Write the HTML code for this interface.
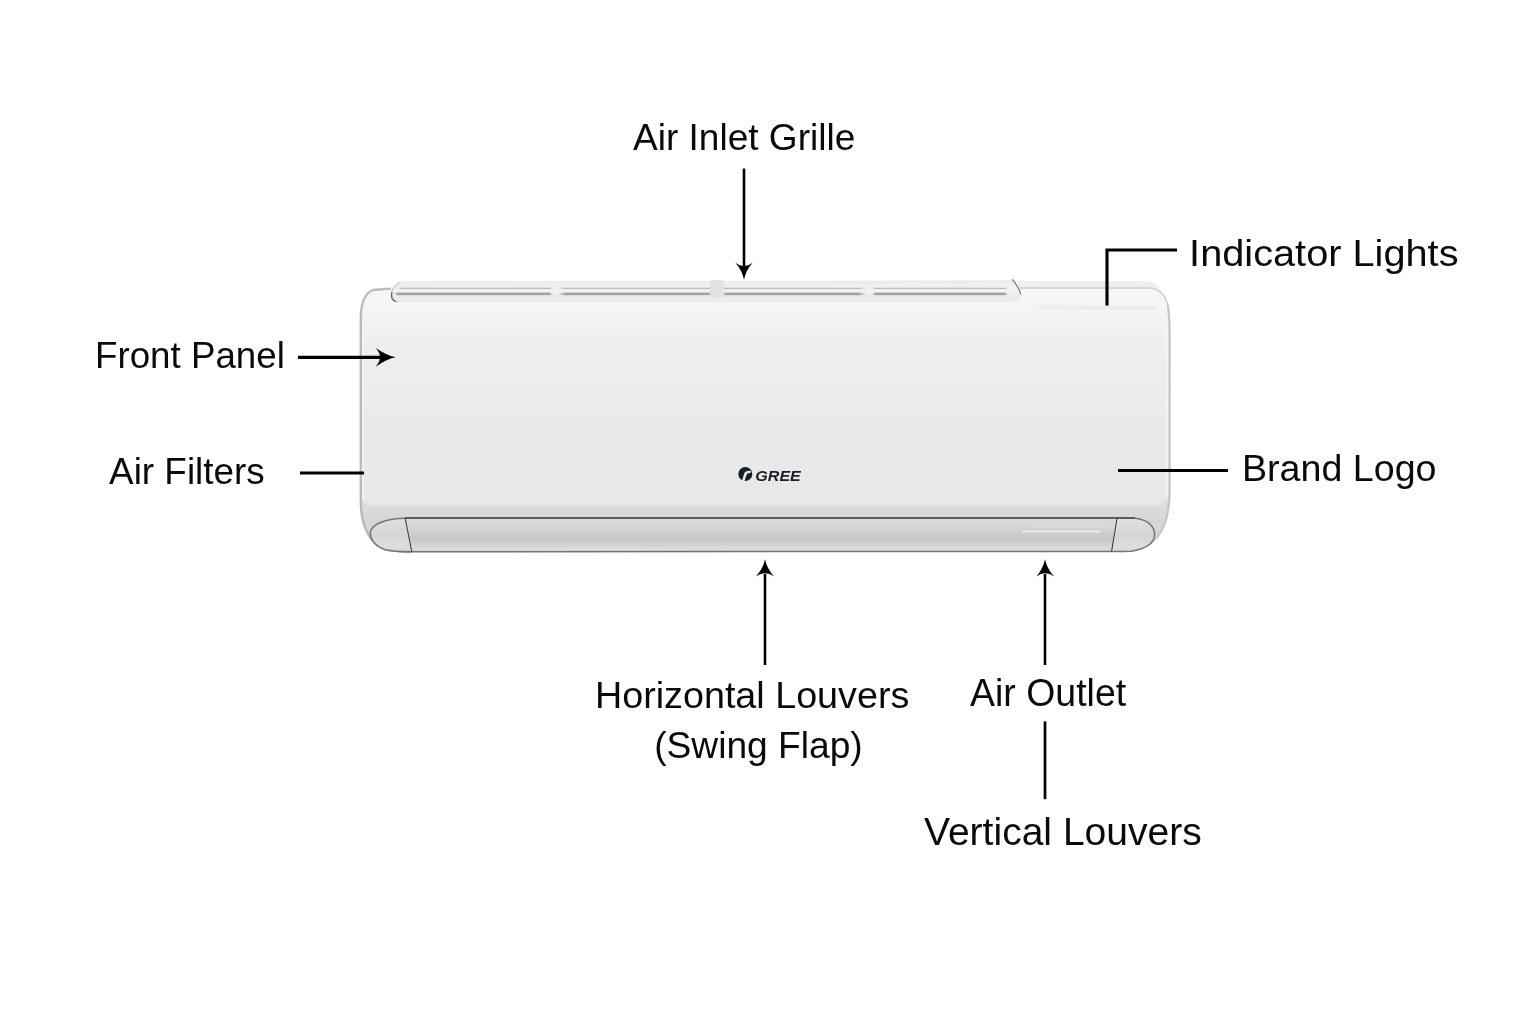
<!DOCTYPE html>
<html><head><meta charset="utf-8"><style>
html,body{margin:0;padding:0;background:#fff;width:1536px;height:1024px;overflow:hidden}
svg{position:absolute;left:0;top:0;will-change:transform}
text{font-family:"Liberation Sans",sans-serif;font-size:37px;fill:#0a0a0a}
</style></head><body>
<svg width="1536" height="1024" viewBox="0 0 1536 1024">
<defs>
  <linearGradient id="panel" gradientUnits="userSpaceOnUse" x1="0" y1="282" x2="0" y2="552">
    <stop offset="0" stop-color="#efefef"/>
    <stop offset="0.03" stop-color="#f7f7f7"/>
    <stop offset="0.09" stop-color="#f5f5f5"/>
    <stop offset="0.215" stop-color="#efefef"/>
    <stop offset="0.5" stop-color="#eaeaea"/>
    <stop offset="0.80" stop-color="#e8e8e8"/>
    <stop offset="1" stop-color="#e4e4e4"/>
  </linearGradient>
  <linearGradient id="band" gradientUnits="userSpaceOnUse" x1="0" y1="504" x2="0" y2="552">
    <stop offset="0" stop-color="#dcdcdc"/>
    <stop offset="0.3" stop-color="#d7d7d7"/>
    <stop offset="1" stop-color="#d4d4d4"/>
  </linearGradient>
  <clipPath id="bodyclip"><path d="M360.3 500 L360.3 318 C360.5 303 364 293 373 290 L1018 288.5 L1018 281.5 L1147 281.5 C1159 282.5 1170.5 296 1170.5 330 L1170.5 490 C1170.5 512 1166 528 1158 537.5 C1150 546 1138 551.5 1120 552 L412 552 C395 552 381 549 373 541 C364 531 360.3 518 360.3 500 Z"/></clipPath>
  <filter id="soft" filterUnits="userSpaceOnUse" x="0" y="0" width="1536" height="1024"><feGaussianBlur stdDeviation="1.3"/></filter>
  <linearGradient id="louver" gradientUnits="userSpaceOnUse" x1="0" y1="518" x2="0" y2="552">
    <stop offset="0" stop-color="#dcdcdc"/>
    <stop offset="0.35" stop-color="#d2d2d2"/>
    <stop offset="0.62" stop-color="#c6c6c6"/>
    <stop offset="0.8" stop-color="#d3d3d3"/>
    <stop offset="0.92" stop-color="#dddddd"/>
    <stop offset="1" stop-color="#d0d0d0"/>
  </linearGradient>
  <linearGradient id="cap" gradientUnits="userSpaceOnUse" x1="0" y1="518" x2="0" y2="552">
    <stop offset="0" stop-color="#e0e0e0"/>
    <stop offset="0.5" stop-color="#d5d5d5"/>
    <stop offset="0.85" stop-color="#dedede"/>
    <stop offset="1" stop-color="#d4d4d4"/>
  </linearGradient>
  <linearGradient id="rimR" gradientUnits="userSpaceOnUse" x1="1152" y1="0" x2="1171" y2="0">
    <stop offset="0" stop-color="#f0f0f0" stop-opacity="0"/>
    <stop offset="0.55" stop-color="#f3f3f3" stop-opacity="0.9"/>
    <stop offset="1" stop-color="#e2e2e2" stop-opacity="0.7"/>
  </linearGradient>
  <linearGradient id="grilleG" gradientUnits="userSpaceOnUse" x1="391" y1="0" x2="1021" y2="0">
    <stop offset="0" stop-color="#000" stop-opacity="0.1"/>
    <stop offset="0.03" stop-color="#000" stop-opacity="0"/>
  </linearGradient>
  <linearGradient id="grilleFill" gradientUnits="userSpaceOnUse" x1="0" y1="280" x2="0" y2="303">
    <stop offset="0" stop-color="#e9e9e9"/>
    <stop offset="0.2" stop-color="#efefef"/>
    <stop offset="0.5" stop-color="#f3f3f3"/>
    <stop offset="0.75" stop-color="#eaeaea"/>
    <stop offset="0.9" stop-color="#ededed"/>
    <stop offset="1" stop-color="#e2e2e2"/>
  </linearGradient>
  <linearGradient id="fadeA" x1="0" y1="0" x2="1" y2="0">
    <stop offset="0" stop-color="#bababa" stop-opacity="0"/>
    <stop offset="0.025" stop-color="#bababa" stop-opacity="1"/>
    <stop offset="0.975" stop-color="#bababa" stop-opacity="1"/>
    <stop offset="1" stop-color="#bababa" stop-opacity="0"/>
  </linearGradient>
  <linearGradient id="fadeB" x1="0" y1="0" x2="1" y2="0">
    <stop offset="0" stop-color="#a2a2a2" stop-opacity="0"/>
    <stop offset="0.025" stop-color="#a2a2a2" stop-opacity="1"/>
    <stop offset="0.975" stop-color="#a2a2a2" stop-opacity="1"/>
    <stop offset="1" stop-color="#a2a2a2" stop-opacity="0"/>
  </linearGradient>
  <filter id="soft2" filterUnits="userSpaceOnUse" x="0" y="0" width="1536" height="1024"><feGaussianBlur stdDeviation="0.5"/></filter>
</defs>
<!-- body silhouette -->
<path d="M360.3 500 L360.3 318 C360.5 303 364 293 373 290 L1018 288.5 L1018 281.5 L1147 281.5 C1159 282.5 1170.5 296 1170.5 330 L1170.5 490 C1170.5 512 1166 528 1158 537.5 C1150 546 1138 551.5 1120 552 L412 552 C395 552 381 549 373 541 C364 531 360.3 518 360.3 500 Z" fill="url(#panel)"/>
<g clip-path="url(#bodyclip)"><path d="M355 490 C359 501 365 505.5 377 505.5 L1150 505.5 C1162 505.5 1169 501 1172 490 L1176 560 L355 560 Z" fill="url(#band)" filter="url(#soft)"/></g>
<path d="M1040 307 L1156 308" stroke="#e8e8e8" stroke-width="3" fill="none" filter="url(#soft)"/>
<!-- right rim highlight -->
<path d="M1166.6 318 L1166.6 498" stroke="#f4f4f4" stroke-width="1.8" fill="none" filter="url(#soft2)"/>
<!-- left inner highlight -->
<path d="M363 320 L363 500" stroke="#f2f2f2" stroke-width="2" fill="none"/>
<!-- top surface right -->
<path d="M1018 281 L1147 281.5 C1153 282 1157 284 1160 287.7 L1018 287.7 Z" fill="#eeeeee"/>
<!-- outline -->
<path d="M1020 287.9 L1150 287.9 C1159 288.7 1165 294 1167.8 305" fill="none" stroke="#cdcdcd" stroke-width="1.5" filter="url(#soft2)"/>
<path d="M1167.8 305 C1169.5 315 1169.6 325 1169.6 335 L1169.6 490 C1169.6 512 1165 527.5 1157.3 537 C1149.5 545.5 1138 551 1120 551.5" fill="none" stroke="#c6c6c6" stroke-width="2.2" filter="url(#soft2)"/>
<path d="M391 288.6 L373 290 C365 293 361 303 360.8 318 L360.8 500 C360.8 518 364 531 373 541 C381 549 395 552 412 552" fill="none" stroke="#bababa" stroke-width="2.4" filter="url(#soft2)"/>
<!-- grille -->
<path d="M403 281.3 L1012.3 280.3 C1016 285 1020 291 1020.6 295 C1020.5 299.5 1017 302.3 1011 302.3 L398 302.3 C393.5 302.3 391 299.5 391 296 C391 290 395 283 403 281.3 Z" fill="url(#grilleFill)"/>
<g filter="url(#soft2)">
  <rect x="398" y="287.7" width="155" height="1.4" fill="url(#fadeA)"/>
  <rect x="558" y="287.7" width="308" height="1.4" fill="url(#fadeA)"/>
  <rect x="872" y="287.7" width="136" height="1.4" fill="url(#fadeA)"/>
  <rect x="394" y="292.6" width="159" height="2.6" fill="url(#fadeB)"/>
  <rect x="558" y="292.6" width="308" height="2.6" fill="url(#fadeB)"/>
  <rect x="872" y="292.6" width="136" height="2.6" fill="url(#fadeB)"/>
</g>
<path d="M1012.3 279.4 C1016 284 1020 290 1020.6 294.5" stroke="#6a6a6a" stroke-width="1.1" fill="none"/>
<path d="M400 282.3 C395 285 391.5 290 391.2 295.5 C391.4 299.5 393.5 301.5 398 302.2" stroke="#c6c6c6" stroke-width="1.2" fill="none" filter="url(#soft2)"/>
<path d="M392 292 C391.4 294 391.4 296.5 392 298.3 C393 300 394.5 301 396 301.5" stroke="#666" stroke-width="1.3" fill="none" filter="url(#soft2)"/>
<rect x="709.5" y="280" width="15" height="17.5" rx="4" fill="#e2e2e2" filter="url(#soft2)"/>
<!-- louver -->
<path d="M405.1 518 L1117.1 518 L1111.6 551.3 L411.75 551.7 Z" fill="url(#louver)"/>
<path d="M405.1 518 C390 518.2 375 522 371 530 C368 538 375 546 385 549.7 C392 551.3 400 551.7 411.75 551.7 Z" fill="url(#cap)"/>
<path d="M1117.1 518 L1135 518.2 C1150 520 1155 528 1154.6 535 C1154 544 1145 549 1131 551.3 L1111.6 551.3 Z" fill="url(#cap)"/>
<path d="M405.1 518 L1135 518" stroke="#5c5c5c" stroke-width="1.8" fill="none"/>
<path d="M405.1 518.3 C390 518.5 375 522 371 530 C368 538 375 546 385 549.7 C392 551.3 400 551.7 411.75 551.7 L1111.6 551.5 L1131 551.3 C1145 549 1154 544 1154.6 535 C1155 528 1150 520 1135 518.3" stroke="#747474" stroke-width="1.5" fill="none"/>
<line x1="405.1" y1="518" x2="411.75" y2="551.7" stroke="#333" stroke-width="1"/>
<line x1="1117.1" y1="518" x2="1111.6" y2="551.3" stroke="#333" stroke-width="1"/>
<path d="M1022 531.5 L1100 531.5" stroke="#ececec" stroke-width="1.8" filter="url(#soft2)"/>
<path d="M1030 526.5 L1110 526.5" stroke="#e2e2e2" stroke-width="1.2" filter="url(#soft2)"/>
<!-- GREE logo -->
<circle cx="745.3" cy="474" r="7" fill="#18202b"/>
<path d="M742 481 L744 474 C745 471.5 747 470.5 751 470.8 L750.5 473 C748 472.8 747 473.5 746.5 475 L744.5 481 Z" fill="#e8e8e8"/>
<text x="755.3" y="480.5" style="font-size:15.2px;font-weight:bold;font-style:italic;fill:#18202b" textLength="45.5" lengthAdjust="spacingAndGlyphs">GREE</text>
<!-- lines and arrows -->
<g stroke="#000" stroke-linecap="butt" fill="none">
  <line x1="744" y1="168.5" x2="744" y2="266" stroke-width="2.6"/>
  <polyline points="1107,305.5 1107,250 1177,250" stroke-width="3.1"/>
  <line x1="298" y1="357.4" x2="381" y2="357.4" stroke-width="3.1"/>
  <line x1="300" y1="473" x2="364" y2="473" stroke-width="3.1"/>
  <line x1="1118" y1="470.5" x2="1228" y2="470.5" stroke-width="2.9"/>
  <line x1="765" y1="665" x2="765" y2="574" stroke-width="2.6"/>
  <line x1="1045" y1="665" x2="1045" y2="574" stroke-width="2.6"/>
  <line x1="1045" y1="721.4" x2="1045" y2="799.2" stroke-width="2.7"/>
</g>
<g fill="#000">
  <path d="M744 279.8 Q742 270 735.3 262.8 Q744 269.5 752.7 262.8 Q746 270 744 279.8 Z"/>
  <path d="M395.6 357.3 Q386 355.3 375.4 347.8 Q384.5 357.3 375.4 367 Q386 359.3 395.6 357.3 Z"/>
  <path d="M765 559.3 Q763 569 755.8 576.6 Q765 570 774.2 576.6 Q767 569 765 559.3 Z"/>
  <path d="M1045 559.3 Q1043 569 1036.3 576.6 Q1045 570 1054.2 576.6 Q1047 569 1045 559.3 Z"/>
</g>
<!-- labels -->
<text x="633.0" y="150.0" style="font-size:37.0px" textLength="222.3" lengthAdjust="spacingAndGlyphs">Air Inlet Grille</text>
<text x="1189.1" y="266.3" style="font-size:37.85px" textLength="269.4" lengthAdjust="spacingAndGlyphs">Indicator Lights</text>
<text x="95.0" y="367.7" style="font-size:37.57px" textLength="189.8" lengthAdjust="spacingAndGlyphs">Front Panel</text>
<text x="109.1" y="483.9" style="font-size:37.14px" textLength="155.6" lengthAdjust="spacingAndGlyphs">Air Filters</text>
<text x="1242.0" y="480.6" style="font-size:37.85px" textLength="194.5" lengthAdjust="spacingAndGlyphs">Brand Logo</text>
<text x="595.0" y="707.6" style="font-size:37.85px" textLength="314.3" lengthAdjust="spacingAndGlyphs">Horizontal Louvers</text>
<text x="654.2" y="757.5" style="font-size:37.85px" textLength="208.5" lengthAdjust="spacingAndGlyphs">(Swing Flap)</text>
<text x="970.1" y="706.4" style="font-size:38.13px" textLength="156.0" lengthAdjust="spacingAndGlyphs">Air Outlet</text>
<text x="924.0" y="844.8" style="font-size:39.7px" textLength="277.8" lengthAdjust="spacingAndGlyphs">Vertical Louvers</text>
</svg>
</body></html>
